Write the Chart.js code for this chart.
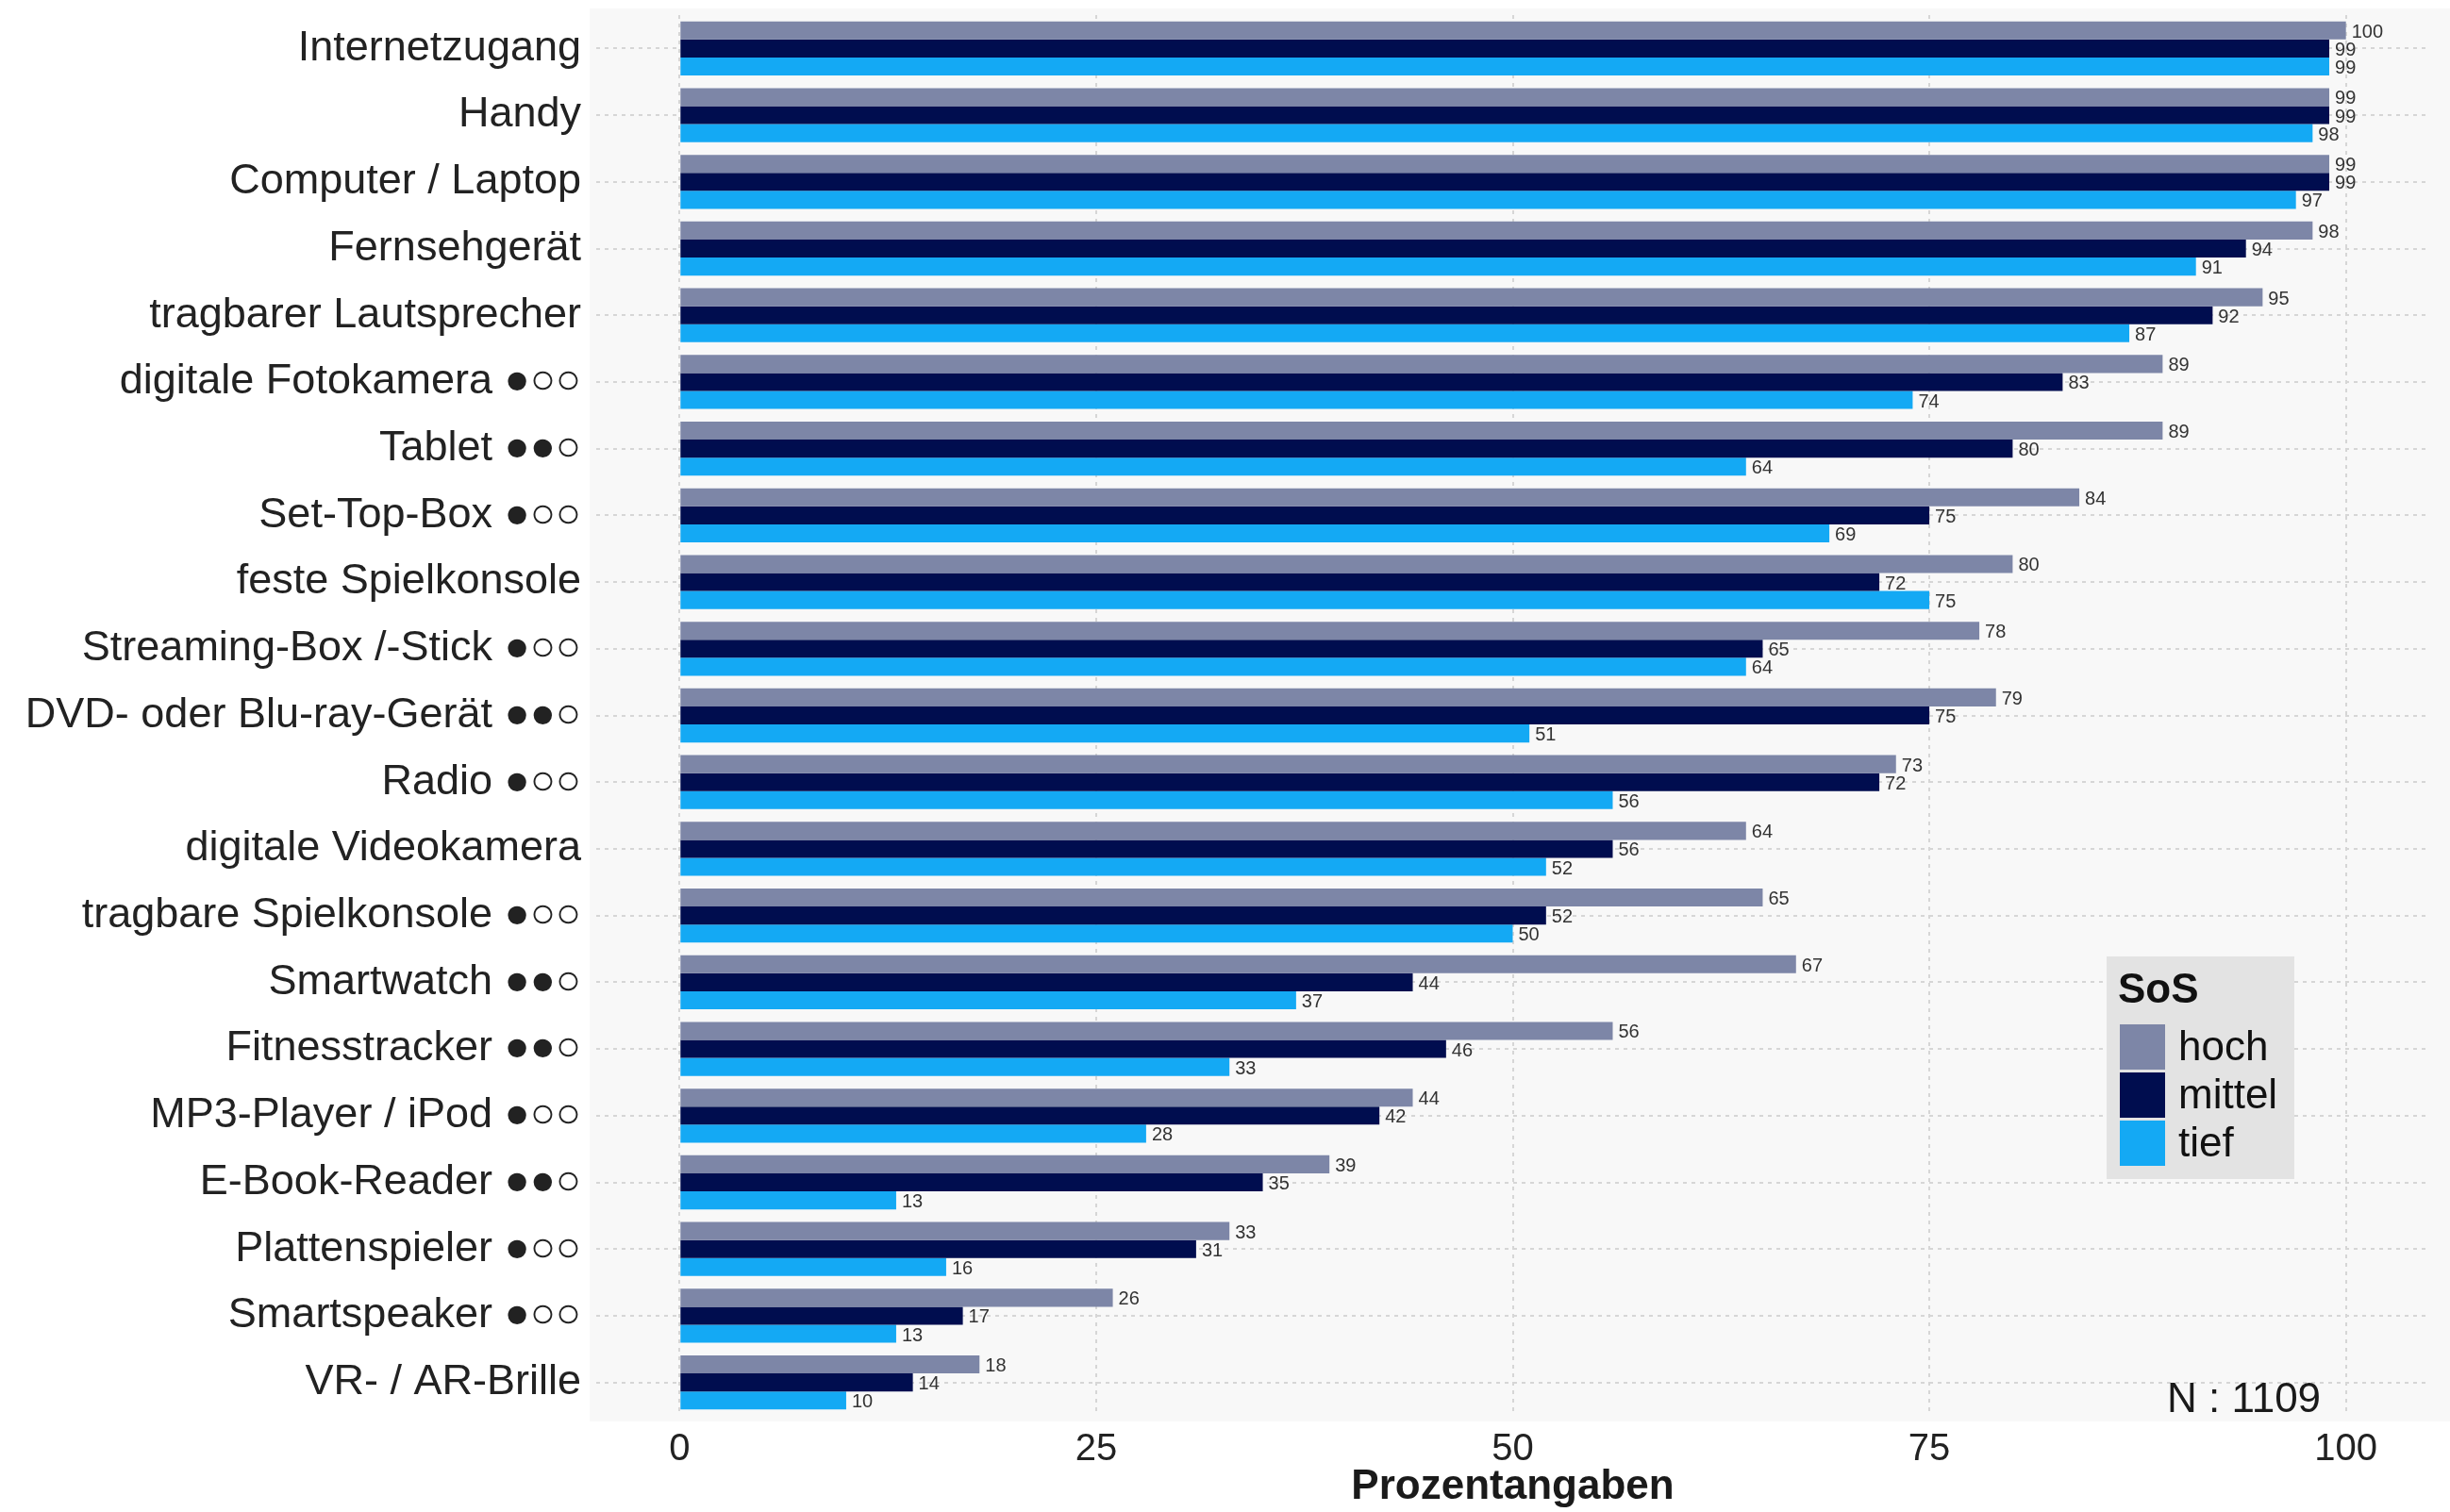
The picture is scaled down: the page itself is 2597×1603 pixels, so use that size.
<!DOCTYPE html>
<html>
<head>
<meta charset="utf-8">
<script src="https://cdn.jsdelivr.net/npm/chart.js@4.4.1/dist/chart.umd.min.js"></script>
<style>
  body { margin: 0; background: #fff; }
  canvas { display: block; }
</style>
</head>
<body>
<canvas id="myChart" width="2597" height="1603"></canvas>
<script>
const categories = [
  'Internetzugang',
  'Handy',
  'Computer / Laptop',
  'Fernsehgerät',
  'tragbarer Lautsprecher',
  'digitale Fotokamera ●○○',
  'Tablet ●●○',
  'Set-Top-Box ●○○',
  'feste Spielkonsole',
  'Streaming-Box /-Stick ●○○',
  'DVD- oder Blu-ray-Gerät ●●○',
  'Radio ●○○',
  'digitale Videokamera',
  'tragbare Spielkonsole ●○○',
  'Smartwatch ●●○',
  'Fitnesstracker ●●○',
  'MP3-Player / iPod ●○○',
  'E-Book-Reader ●●○',
  'Plattenspieler ●○○',
  'Smartspeaker ●○○',
  'VR- / AR-Brille'
];

const hoch   = [100, 99, 99, 98, 95, 89, 89, 84, 80, 78, 79, 73, 64, 65, 67, 56, 44, 39, 33, 26, 18];
const mittel = [99, 99, 99, 94, 92, 83, 80, 75, 72, 65, 75, 72, 56, 52, 44, 46, 42, 35, 31, 17, 14];
const tief   = [99, 98, 97, 91, 87, 74, 64, 69, 75, 64, 51, 56, 52, 50, 37, 33, 28, 13, 16, 13, 10];

const xTicks = [0, 25, 50, 75, 100];
const legendTitle = 'SoS';
const noteText = 'N : 1109';
const axisTitle = 'Prozentangaben';

const FONT = '"Liberation Sans", Arial, "DejaVu Sans", sans-serif';

// light panel behind the plot, a bit larger than the chart area
const panelBg = {
  id: 'panelBg',
  beforeDraw(chart) {
    const { ctx, chartArea, width } = chart;
    ctx.save();
    ctx.fillStyle = '#f8f8f8';
    ctx.fillRect(chartArea.left - 7, chartArea.top - 7, width - chartArea.left + 7, chartArea.bottom - chartArea.top + 13);
    ctx.restore();
  }
};

// numbers at the end of every bar
const barValues = {
  id: 'barValues',
  afterDatasetsDraw(chart) {
    const { ctx } = chart;
    ctx.save();
    ctx.font = '20px ' + FONT;
    ctx.fillStyle = '#333';
    ctx.textAlign = 'left';
    ctx.textBaseline = 'middle';
    chart.data.datasets.forEach((ds, i) => {
      chart.getDatasetMeta(i).data.forEach((bar, j) => {
        ctx.fillText(ds.data[j], bar.x + 6, bar.y + 2);
      });
    });
    ctx.restore();
  }
};

// legend box and N note inside the panel
const sosLegend = {
  id: 'sosLegend',
  afterDraw(chart) {
    const { ctx } = chart;
    ctx.save();
    ctx.fillStyle = '#e3e3e3';
    ctx.fillRect(2233, 1014, 199, 236);
    ctx.fillStyle = '#111';
    ctx.textBaseline = 'alphabetic';
    ctx.textAlign = 'left';
    ctx.font = 'bold 44px ' + FONT;
    ctx.fillText(legendTitle, 2245, 1063);
    ctx.font = '44px ' + FONT;
    chart.data.datasets.forEach((ds, i) => {
      const y = 1086 + i * 51;
      ctx.fillStyle = ds.backgroundColor;
      ctx.fillRect(2247, y, 48, 48);
      ctx.fillStyle = '#111';
      ctx.fillText(ds.label, 2309, y + 38);
    });
    ctx.fillStyle = '#1a1a1a';
    ctx.fillText(noteText, 2297, 1497);
    ctx.restore();
  }
};

const ctx = document.getElementById('myChart').getContext('2d');
new Chart(ctx, {
  type: 'bar',
  data: {
    labels: categories,
    datasets: [
      { label: 'hoch', data: hoch, backgroundColor: '#7d86a7' },
      { label: 'mittel', data: mittel, backgroundColor: '#000d4f' },
      { label: 'tief', data: tief, backgroundColor: '#14a9f4' }
    ]
  },
  options: {
    indexAxis: 'y',
    responsive: false,
    animation: false,
    devicePixelRatio: 1,
    layout: { padding: { top: 16, right: 22, left: 0, bottom: 0 } },
    datasets: {
      bar: { barPercentage: 1, categoryPercentage: 0.81 }
    },
    plugins: {
      legend: { display: false },
      tooltip: { enabled: false }
    },
    scales: {
      x: {
        type: 'linear',
        min: -5,
        max: 105,
        afterBuildTicks(scale) {
          scale.ticks = xTicks.map(v => ({ value: v }));
        },
        afterFit(scale) {
          scale.height = 102;
          scale.paddingLeft = 0;
          scale.paddingRight = 0;
        },
        grid: { color: '#d6d6d6', lineWidth: 2, drawTicks: false },
        border: { display: false, dash: [4, 5] },
        ticks: {
          padding: 12,
          color: '#222',
          font: { family: FONT, size: 40 }
        },
        title: {
          display: true,
          text: axisTitle,
          color: '#1a1a1a',
          padding: 0,
          font: { family: FONT, size: 44, weight: 'bold' }
        }
      },
      y: {
        type: 'category',
        offset: true,
        afterFit(scale) {
          scale.width = 632;
          scale.paddingTop = 0;
          scale.paddingBottom = 0;
        },
        grid: { offset: false, color: '#d6d6d6', lineWidth: 2, drawTicks: false },
        border: { display: false, dash: [4, 5] },
        ticks: {
          padding: 16,
          color: '#222',
          font: { family: FONT, size: 45 }
        }
      }
    }
  },
  plugins: [panelBg, barValues, sosLegend]
});
</script>
</body>
</html>
